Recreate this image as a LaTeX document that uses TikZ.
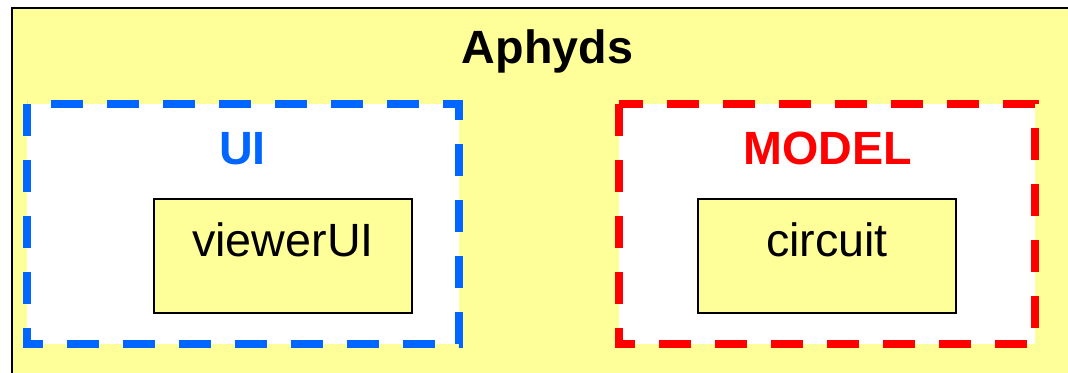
\documentclass[tikz,border=0pt]{standalone}
\usepackage{fontspec}
\setmainfont{Liberation Sans}
\usetikzlibrary{positioning}
\definecolor{appyellow}{HTML}{FFFF99}
\definecolor{uiblue}{HTML}{0066FF}
\definecolor{modelred}{HTML}{FF0000}

\begin{document}
\begin{tikzpicture}[
  x=0.75pt, y=-0.75pt,
  title/.style={font=\fontsize{35}{42}\selectfont\bfseries, anchor=base, inner sep=0pt},
  layer/.style={fill=white, inner sep=0pt, outer sep=0pt, minimum height=180pt},
  layerline/.style={line width=6pt, dash pattern=on 24pt off 18pt},
  module/.style={draw, fill=appyellow, line width=1.4pt, inner sep=0pt,
                 minimum width=193.5pt, text height=42.75pt, text depth=42.75pt,
                 anchor=base, font=\fontsize{35}{42}\selectfont}]
  \useasboundingbox (0,0) rectangle (1068,372);
  \fill[white] (0,0) rectangle (1068,372);
  % application frame, runs off the page on two sides
  \node[draw, fill=appyellow, line width=1.6pt, inner sep=0pt, anchor=north west,
        minimum width=810pt, minimum height=300pt] (app) at (11.3,7.3) {};
  \node[title] (applbl) at (547.5,63) {Aphyds};
  % the two layers, dashed border traced down the left side first
  \node[layer, minimum width=324pt] (ui) at (243,224) {};
  \node[layer, minimum width=312pt] (model) at (827,224) {};
  \draw[layerline, uiblue] (ui.north west) -- (ui.south west)
    -- (ui.south east) -- (ui.north east) -- (ui.north west);
  \draw[layerline, modelred] (model.north west) -- (model.south west)
    -- (model.south east) -- (model.north east) -- (model.north west);
  \node[title, text=uiblue] (uilbl) at (242.5,164) {UI};
  \node[title, text=modelred] (modellbl) at (828,164) {MODEL};
  % modules inside them
  \node[module] (viewer) at (283,256) {viewerUI};
  \node[module] (circuit) at (827,256) {circuit};
\end{tikzpicture}
\end{document}
